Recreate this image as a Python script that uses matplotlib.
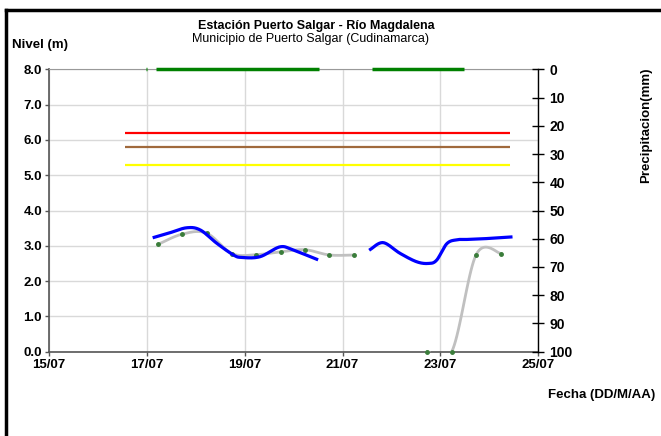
import matplotlib
matplotlib.use('Agg')
import matplotlib.pyplot as plt
from matplotlib.lines import Line2D
import numpy as np

plt.rcParams.update({'font.family': ['Liberation Sans', 'DejaVu Sans'], 'font.size': 9.5})

# Nivel observado (dia de julio, m)
obs1_day = [17.15, 17.45, 17.81, 18.09, 18.43, 18.77, 18.94, 19.31, 19.72, 19.99, 20.47]
obs1_lvl = [3.24, 3.36, 3.51, 3.45, 3.07, 2.74, 2.67, 2.69, 2.97, 2.88, 2.62]
obs2_day = [21.57, 21.83, 22.17, 22.51, 22.75, 22.92, 23.13, 23.33, 23.54, 23.88, 24.22, 24.44]
obs2_lvl = [2.90, 3.09, 2.79, 2.55, 2.50, 2.59, 3.06, 3.17, 3.18, 3.20, 3.23, 3.25]

# Nivel sensor (puntos cada 12 h)
est1_day = [17.23, 17.72, 18.22, 18.74, 19.24, 19.74, 20.23, 20.73, 21.24]
est1_lvl = [3.04, 3.33, 3.36, 2.78, 2.75, 2.83, 2.89, 2.74, 2.74]
est2_day = [22.73, 23.23, 23.73, 24.24]
est2_lvl = [0.0, 0.0, 2.75, 2.78]

# Umbrales (m)
umbral_start, umbral_end = 16.56, 24.42
umbral_vals = [6.2, 5.8, 5.3]
umbral_cols = ['#ff0000', '#a0693c', '#ffff00']

# Precipitacion (mm) - tramos con registro de 0 mm
precip_start = [16.99, 17.19, 21.61]
precip_end = [17.01, 20.52, 23.48]
precip_val = [0, 0, 0]

xticks = [15, 17, 19, 21, 23, 25]
xlabels = ['15/07', '17/07', '19/07', '21/07', '23/07', '25/07']


def smooth(x, y, n=20):
    # curva suavizada tipo Excel (Bezier con tangentes Catmull-Rom)
    p = np.column_stack([x, y]).astype(float)
    pts = np.vstack([p[0], p, p[-1]])
    t = np.linspace(0, 1, n)[:, None]
    out = []
    for i in range(1, len(pts) - 2):
        p0, p1, p2, p3 = pts[i - 1], pts[i], pts[i + 1], pts[i + 2]
        c1 = p1 + (p2 - p0) / 6
        c2 = p2 - (p3 - p1) / 6
        seg = ((1 - t) ** 3) * p1 + 3 * ((1 - t) ** 2) * t * c1 + 3 * (1 - t) * t ** 2 * c2 + t ** 3 * p2
        out.append(seg)
    out = np.vstack(out)
    return out[:, 0], out[:, 1]


fig = plt.figure(figsize=(6.61, 4.36), dpi=100)
ax = fig.add_axes([0.0741, 0.1933, 0.7403, 0.6478])

ax.set_xlim(15, 25)
ax.set_ylim(0, 8)
ax.set_xticks(xticks)
ax.set_xticklabels(xlabels, fontweight='bold')
ax.set_yticks(np.arange(0, 9, 1))
ax.set_yticklabels([f'{v:.1f}' for v in range(9)], fontweight='bold')
ax.grid(True, color='#d9d9d9', lw=1.0)
ax.set_axisbelow(True)
for s in ['left', 'bottom']:
    ax.spines[s].set_color('#555555')
    ax.spines[s].set_linewidth(1.2)
ax.spines['top'].set_color('#999999')
ax.spines['right'].set_visible(False)
ax.tick_params(length=3, width=1, color='#555555', pad=2)

for v, c in zip(umbral_vals, umbral_cols):
    ax.plot([umbral_start, umbral_end], [v, v], color=c, lw=1.6, solid_capstyle='butt')

for xd, yd in [(est1_day, est1_lvl), (est2_day, est2_lvl)]:
    sx, sy = smooth(xd, yd)
    ax.plot(sx, sy, color='#c0c0c0', lw=2.0, zorder=3)
    ax.plot(xd, yd, 'o', color='#3a7d3a', ms=2.5, zorder=4, clip_on=False)

for xd, yd in [(obs1_day, obs1_lvl), (obs2_day, obs2_lvl)]:
    sx, sy = smooth(xd, yd)
    ax.plot(sx, sy, color='#0000ff', lw=2.3, zorder=5)

ax2 = ax.twinx()
ax2.set_ylim(100, 0)
ax2.set_yticks(np.arange(0, 101, 10))
ax2.set_yticklabels([str(v) for v in range(0, 101, 10)], fontweight='bold', fontsize=10)
for s in ['left', 'bottom', 'top']:
    ax2.spines[s].set_visible(False)
ax2.spines['right'].set_color('black')
ax2.spines['right'].set_linewidth(1.0)
ax2.tick_params(axis='y', direction='inout', length=8, width=1, pad=4)
ax2.hlines(precip_val, precip_start, precip_end, color='#008000', lw=2.5, clip_on=False, zorder=6)

fig.text(0.478, 0.940, 'Estación Puerto Salgar - Río Magdalena', ha='center', va='center',
         fontweight='bold', fontsize=9)
fig.text(0.470, 0.910, 'Municipio de Puerto Salgar (Cudinamarca)', ha='center', va='center',
         fontsize=9)
fig.text(0.018, 0.897, 'Nivel (m)', ha='left', va='center', fontweight='bold', fontsize=9.5)
fig.text(0.977, 0.713, 'Precipitacion(mm)', ha='center', va='center', rotation=90,
         fontweight='bold', fontsize=9.5)
fig.text(0.991, 0.094, 'Fecha (DD/M/AA)', ha='right', va='center', fontweight='bold', fontsize=9.5)

# marco del grafico (solo visible a la izquierda y arriba)
fig.add_artist(Line2D([0.0098, 0.0098], [0.0, 0.976], transform=fig.transFigure,
                      color='black', lw=2.5))
fig.add_artist(Line2D([0.0098, 1.0], [0.976, 0.976], transform=fig.transFigure,
                      color='black', lw=2.5))

fig.savefig('out.png', dpi=100)
